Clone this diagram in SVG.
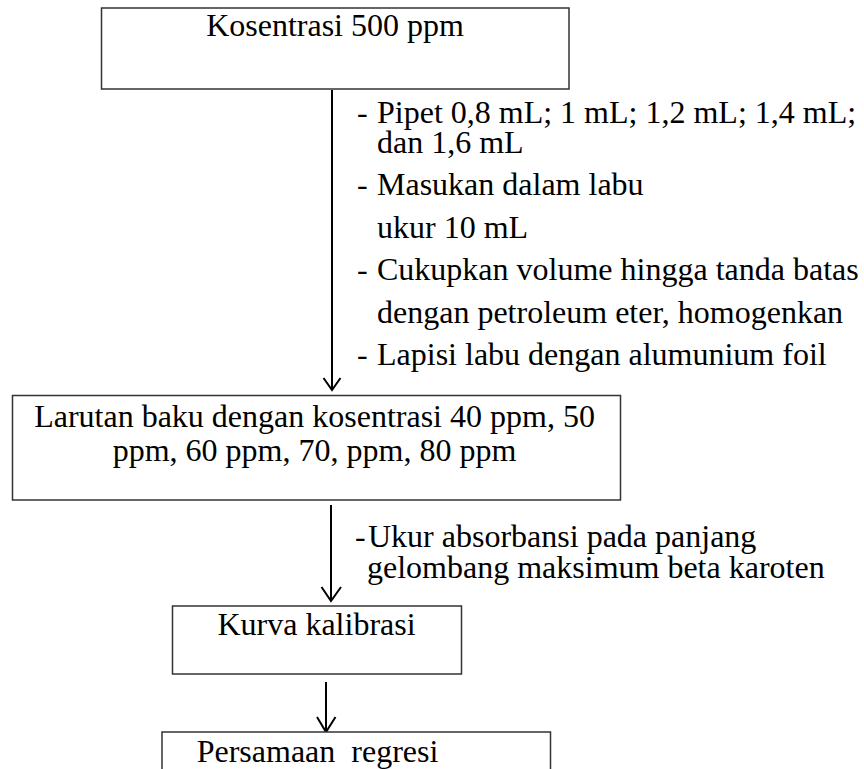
<svg xmlns="http://www.w3.org/2000/svg" width="864" height="769" viewBox="0 0 864 769">
<style>
text{font-family:"Liberation Serif","Times New Roman",serif;font-size:32px;fill:#000}
.box{fill:#fff;stroke:#333;stroke-width:1.5}
.ln{fill:none;stroke:#000;stroke-width:2}
.c{text-anchor:middle}
</style>
<rect width="864" height="769" fill="#fff"/>
<g id="connectors">
<line class="ln" x1="332" y1="90" x2="332" y2="389"/>
<polyline class="ln" points="323.5,378 332,390 340.5,378"/>
<line class="ln" x1="331" y1="505" x2="331" y2="600"/>
<polyline class="ln" points="321.5,587 331,601 341,587"/>
<line class="ln" x1="326" y1="682" x2="326" y2="731"/>
<polyline class="ln" points="317,717 326,732 335.5,717"/>
</g>
<g id="node1">
<rect class="box" x="101.5" y="8" width="467.5" height="81"/>
<text class="c" x="335" y="36">Kosentrasi 500 ppm</text>
</g>
<g id="steps1">
<text x="357" y="122.7">-</text>
<text x="377" y="122.7">Pipet 0,8 mL; 1 mL; 1,2 mL; 1,4 mL;<tspan x="377" y="153">dan 1,6 mL</tspan></text>
<text x="357" y="195">-</text><text x="377" y="195">Masukan dalam labu</text>
<text x="377" y="237.5">ukur 10 mL</text>
<text x="357" y="280">-</text><text x="377" y="280">Cukupkan volume hingga tanda batas</text>
<text x="377" y="322.5">dengan petroleum eter, homogenkan</text>
<text x="357" y="365">-</text><text x="377" y="365">Lapisi labu dengan alumunium foil</text>
</g>
<g id="node2">
<rect class="box" x="12.5" y="395.5" width="608" height="104.5"/>
<text class="c" x="314.5" y="427">Larutan baku dengan kosentrasi 40 ppm, 50<tspan x="314.5" y="461">ppm, 60 ppm, 70, ppm, 80 ppm</tspan></text>
</g>
<g id="steps2">
<text x="355" y="546.5">-</text>
<text x="368" y="546.5">Ukur absorbansi pada panjang<tspan x="367" y="577.5">gelombang maksimum beta karoten</tspan></text>
</g>
<g id="node3">
<rect class="box" x="172.5" y="606" width="289" height="68"/>
<text class="c" x="316.5" y="635">Kurva kalibrasi</text>
</g>
<g id="node4">
<rect class="box" x="162" y="732" width="388.5" height="60"/>
<text x="196.7" y="761.5" xml:space="preserve">Persamaan  regresi</text>
</g>
</svg>
